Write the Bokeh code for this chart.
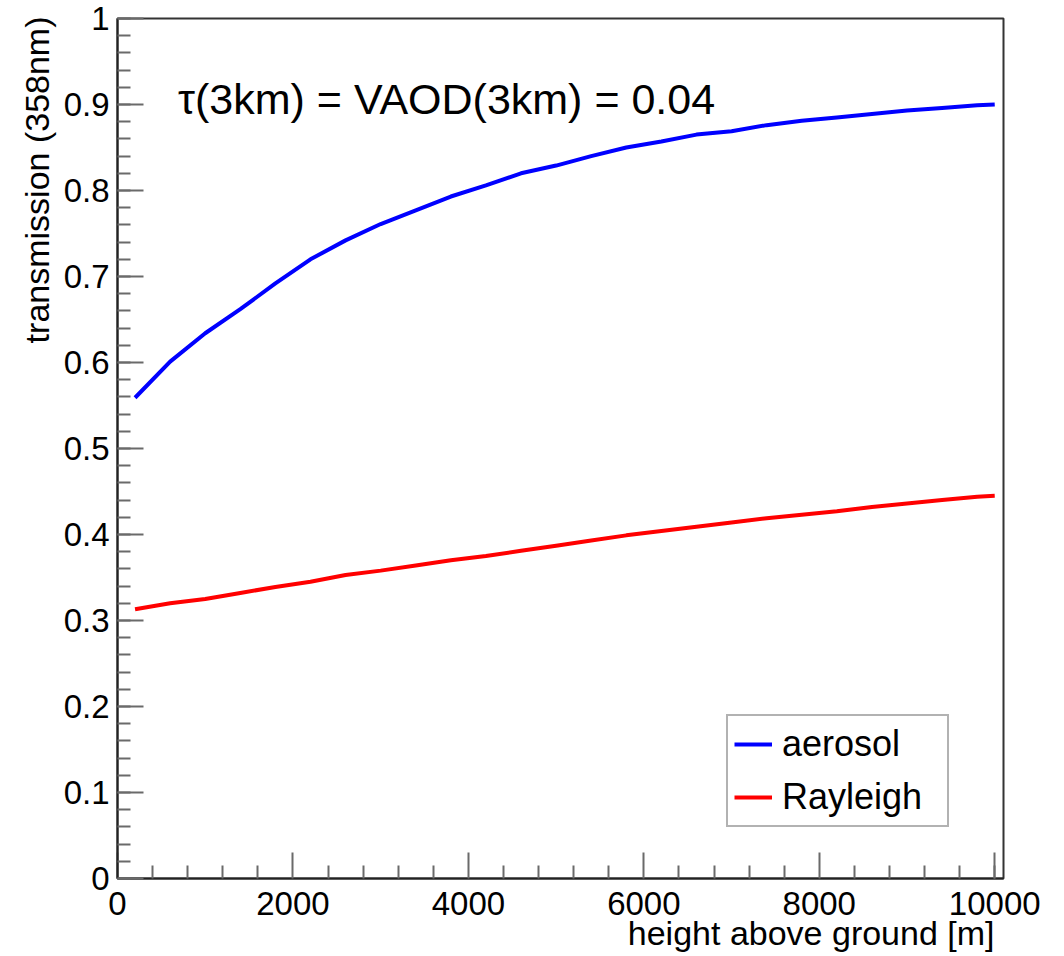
from bokeh.plotting import figure
from bokeh.models import (FixedTicker, CustomJSTickFormatter, Label, Legend,
                          LegendItem, Range1d, Title)
from bokeh.embed import file_html
from bokeh.resources import INLINE

# ---- data ----
height_m = [200, 600, 1000, 1400, 1800, 2200, 2600, 3000, 3400, 3800, 4200,
            4600, 5000, 5400, 5800, 6200, 6600, 7000, 7400, 7800, 8200, 8600,
            9000, 9400, 9800, 10000]
aerosol = [0.559, 0.601, 0.634, 0.662, 0.692, 0.720, 0.742, 0.761, 0.777,
           0.793, 0.806, 0.820, 0.829, 0.840, 0.850, 0.857, 0.865, 0.869,
           0.876, 0.881, 0.885, 0.889, 0.893, 0.896, 0.899, 0.900]
rayleigh = [0.313, 0.320, 0.325, 0.332, 0.339, 0.345, 0.353, 0.358, 0.364,
            0.370, 0.375, 0.381, 0.387, 0.393, 0.399, 0.404, 0.409, 0.414,
            0.419, 0.423, 0.427, 0.432, 0.436, 0.440, 0.444, 0.445]

x_major = [0, 2000, 4000, 6000, 8000, 10000]
x_minor = [400, 800, 1200, 1600, 2400, 2800, 3200, 3600, 4400, 4800, 5200,
           5600, 6400, 6800, 7200, 7600, 8400, 8800, 9200, 9600, 10000]
y_major = [0, 0.1, 0.2, 0.3, 0.4, 0.5, 0.6, 0.7, 0.8, 0.9, 1]
y_minor = [i / 50 for i in range(51)]

series_names = ["aerosol", "Rayleigh"]
x_title = "height above ground [m]"
y_title = "transmission (358nm)"
annotation = "τ(3km) = VAOD(3km) = 0.04"

FONT = "Liberation Sans"

p = figure(frame_width=886, frame_height=860, output_backend="svg",
           toolbar_location=None,
           x_range=Range1d(0, 10100), y_range=Range1d(0, 1),
           min_border_left=117, min_border_right=61, min_border_top=18,
           min_border_bottom=78)
p.grid.visible = False
p.background_fill_color = "white"
p.border_fill_color = "white"
p.outline_line_color = "#333333"
p.outline_line_width = 2

for ax in (p.xaxis[0], p.yaxis[0]):
    ax.axis_line_color = "#222222"
    ax.axis_line_width = 2
    ax.major_tick_in = 26
    ax.major_tick_out = 0
    ax.minor_tick_in = 13
    ax.minor_tick_out = 0
    ax.major_tick_line_color = "#6a6a6a"
    ax.major_tick_line_width = 2
    ax.minor_tick_line_color = "#6a6a6a"
    ax.minor_tick_line_width = 2
    ax.major_label_text_font = FONT
    ax.major_label_text_font_size = "33px"
    ax.major_label_text_color = "black"

p.xaxis.ticker = FixedTicker(ticks=x_major, minor_ticks=x_minor)
p.yaxis.ticker = FixedTicker(ticks=y_major, minor_ticks=y_minor)
p.xaxis.formatter = CustomJSTickFormatter(code="return tick.toFixed(0);")
p.yaxis.formatter = CustomJSTickFormatter(
    code=r"return tick.toFixed(1).replace(/\.0$/, '');")
p.xaxis.major_label_standoff = 13
p.yaxis.major_label_standoff = 8

r1 = p.line(height_m, aerosol, line_color="#0000ff", line_width=4)
r2 = p.line(height_m, rayleigh, line_color="#ff0000", line_width=4)

legend = Legend(items=[LegendItem(label=series_names[0], renderers=[r1]),
                       LegendItem(label=series_names[1], renderers=[r2])],
                location=(609, 51), padding=6, spacing=9,
                glyph_width=38, glyph_height=44, label_height=44,
                label_width=159, label_standoff=10,
                label_text_font=FONT, label_text_font_size="36px",
                label_text_color="black",
                border_line_color="#666666", border_line_width=2,
                background_fill_color="white", background_fill_alpha=1.0,
                margin=0)
p.add_layout(legend)

p.add_layout(Label(x=690, y=0.906, text=annotation, text_font=FONT,
                   text_font_size="43px", text_color="black",
                   text_baseline="alphabetic", text_align="left"))

xt = Title(text=x_title, align="right", offset=9, standoff=-12,
           text_font=FONT, text_font_size="34px", text_font_style="normal",
           text_color="black")
p.add_layout(xt, "below")
yt = Title(text=y_title, align="right", offset=-2, standoff=10,
           text_font=FONT, text_font_size="34px", text_font_style="normal",
           text_color="black")
p.add_layout(yt, "left")

open("out.html", "w").write(file_html(p, INLINE))
